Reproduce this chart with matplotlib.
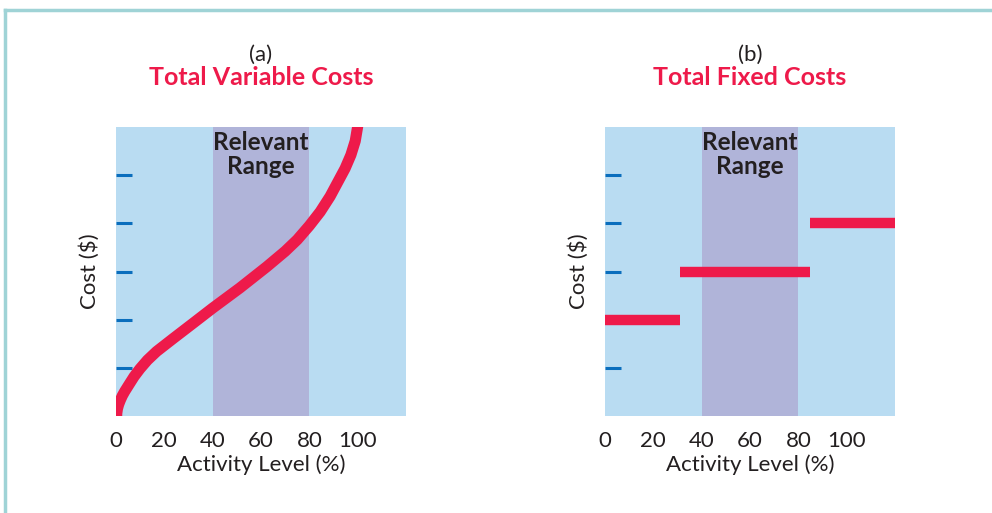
import numpy as np
import matplotlib.pyplot as plt
from matplotlib.lines import Line2D

## Data
activity_ticks = [0, 20, 40, 60, 80, 100]
cost_ticks = [1, 2, 3, 4, 5]
relevant_range = (40, 80)
# (a) total variable costs curve
var_x = [0.25, 0.3, 0.6, 1.1, 1.8, 2.6, 3.6, 4.6, 5.6, 7.5, 9.9, 13.0, 16.8, 23.7, 32.0, 40.0,
         51.3, 62.4, 70.0, 75.0, 80.0, 84.5, 88.6, 94.8, 97.2, 99.0, 100.3]
var_y = [-0.1, 0.05, 0.15, 0.24, 0.33, 0.42, 0.51, 0.59, 0.67, 0.82, 0.98, 1.16, 1.34, 1.61, 1.93, 2.24,
         2.66, 3.1, 3.42, 3.66, 3.95, 4.24, 4.56, 5.14, 5.42, 5.71, 6.1]
# (b) total fixed costs steps
fixed_start = [0, 31, 85]
fixed_end = [31, 85, 120]
fixed_level = [2, 3, 4]

## Style
bg_blue = '#b9dcf2'
range_purple = '#b0b4d9'
red = '#ee1a4a'
tick_blue = '#0a6ebd'
dark = '#231f20'
plt.rcParams['font.family'] = ['Lato', 'DejaVu Sans']

fig = plt.figure(figsize=(9.92, 5.13), dpi=100)
fig.patch.set_facecolor('white')

# teal frame round the figure (top and left edges visible)
fig.add_artist(Line2D([5/992, 5/992], [0, 1 - 10/513], transform=fig.transFigure, color='#9fd3d6', lw=2.5))
fig.add_artist(Line2D([5/992, 1], [1 - 10/513, 1 - 10/513], transform=fig.transFigure, color='#9fd3d6', lw=2.5))

def setup_axes(ax, letter, title):
    ax.set_facecolor(bg_blue)
    ax.set_xlim(0, 120)
    ax.set_ylim(0, 6)
    ax.axvspan(*relevant_range, color=range_purple, lw=0, zorder=0.5)
    for s in ax.spines.values():
        s.set_visible(False)
    ax.set_xticks(activity_ticks)
    ax.set_xticklabels([str(t) for t in activity_ticks], fontsize=16, color=dark)
    ax.tick_params(axis='x', length=0, pad=11)
    ax.set_xticks(activity_ticks[1:], minor=True)
    ax.tick_params(axis='x', which='minor', direction='in', length=11, width=2.2, color=tick_blue)
    ax.set_yticks(cost_ticks)
    ax.set_yticklabels([])
    ax.tick_params(axis='y', direction='in', length=11.5, width=2.2, color=tick_blue)
    ax.set_xlabel('Activity Level (%)', fontsize=16, color=dark, labelpad=2)
    ax.set_ylabel('Cost ($)', fontsize=16, color=dark, labelpad=8)
    ax.text(60, 5.92, 'Relevant\nRange', ha='center', va='top', fontsize=17.5, fontweight='bold',
            color=dark, linespacing=1.05, zorder=3)
    ax.text(0.5, 1.25, letter, transform=ax.transAxes, ha='center', va='center', fontsize=16, color=dark)
    ax.text(0.5, 1.173, title, transform=ax.transAxes, ha='center', va='center', fontsize=18,
            fontweight='bold', color=red)

ax1 = fig.add_axes([116/992, 1 - 416/513, 290/992, 289/513])
setup_axes(ax1, '(a)', 'Total Variable Costs')
ax1.plot(var_x, var_y, color=red, lw=8, solid_capstyle='butt', solid_joinstyle='round', zorder=2)

ax2 = fig.add_axes([605/992, 1 - 416/513, 290/992, 289/513])
setup_axes(ax2, '(b)', 'Total Fixed Costs')
ax2.hlines(fixed_level, fixed_start, fixed_end, color=red, lw=7.5, zorder=2)

fig.savefig('out.png', dpi=100)
